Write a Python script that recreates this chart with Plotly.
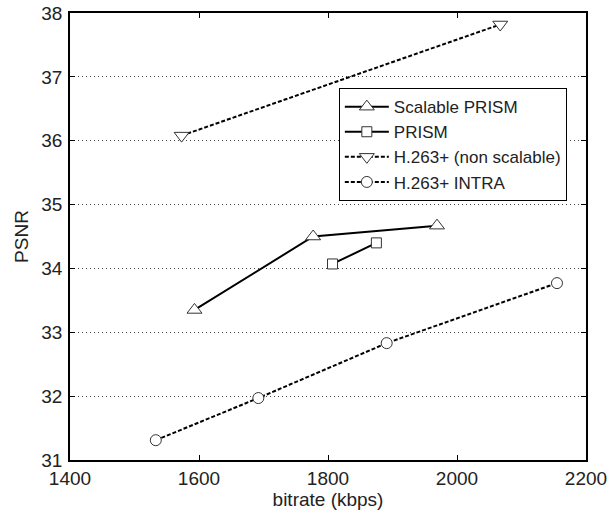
import plotly.graph_objects as go

# Data
spr_x = [1593, 1777, 1969]
spr_y = [33.35, 34.50, 34.67]

prism_x = [1807, 1875]
prism_y = [34.07, 34.40]

h263_x = [1573, 2067]
h263_y = [36.08, 37.82]

intra_x = [1533, 1692, 1891, 2155]
intra_y = [31.31, 31.97, 32.83, 33.77]

x_ticks = [1400, 1600, 1800, 2000, 2200]
y_ticks = [31, 32, 33, 34, 35, 36, 37, 38]

FONT = "Liberation Sans, Arial, Helvetica, sans-serif"
MK_LINE = dict(color="#333333", width=1)

fig = go.Figure()
fig.add_trace(go.Scatter(
    x=spr_x, y=spr_y, mode="lines+markers", name="Scalable PRISM",
    line=dict(color="black", width=2),
    marker=dict(symbol="triangle-up", size=13, color="white", line=MK_LINE)))
fig.add_trace(go.Scatter(
    x=prism_x, y=prism_y, mode="lines+markers", name="PRISM",
    line=dict(color="black", width=2),
    marker=dict(symbol="square", size=10, color="white", line=MK_LINE)))
fig.add_trace(go.Scatter(
    x=h263_x, y=h263_y, mode="lines+markers", name="H.263+ (non scalable)",
    line=dict(color="black", width=2, dash="4px,2px"),
    marker=dict(symbol="triangle-down", size=13, color="white", line=MK_LINE)))
fig.add_trace(go.Scatter(
    x=intra_x, y=intra_y, mode="lines+markers", name="H.263+ INTRA",
    line=dict(color="black", width=2, dash="4px,2px"),
    marker=dict(symbol="circle", size=11, color="white", line=MK_LINE)))

axis_common = dict(
    showline=True, linecolor="black", linewidth=1.5, mirror="ticks",
    ticks="inside", ticklen=5, tickwidth=1, tickcolor="black",
    zeroline=False, automargin=False,
    tickfont=dict(family=FONT, size=19, color="#222222"),
)

fig.update_xaxes(
    range=[1400, 2200], tickvals=x_ticks, showgrid=False,
    title=dict(text="bitrate (kbps)", font=dict(family=FONT, size=19, color="#222222"), standoff=2),
    **axis_common)
fig.update_yaxes(
    range=[31, 38], tickvals=y_ticks, showgrid=True, gridcolor="#444444",
    griddash="1px,3px", gridwidth=1, ticklabelstandoff=2,
    title=dict(text="PSNR", font=dict(family=FONT, size=19, color="#222222"), standoff=8),
    **axis_common)

fig.update_layout(
    width=615, height=514,
    margin=dict(l=70, r=29, t=13, b=54, autoexpand=False),
    plot_bgcolor="white", paper_bgcolor="white",
    font=dict(family=FONT, color="#222222"),
    legend=dict(
        x=0.521, y=0.832, xanchor="left", yanchor="top",
        bgcolor="white", bordercolor="black", borderwidth=1,
        font=dict(family=FONT, size=17, color="#222222"),
        itemwidth=44,
    ),
)

fig.write_html("out.html", config={"displayModeBar": False},
               post_script="document.body.style.margin='0';")
